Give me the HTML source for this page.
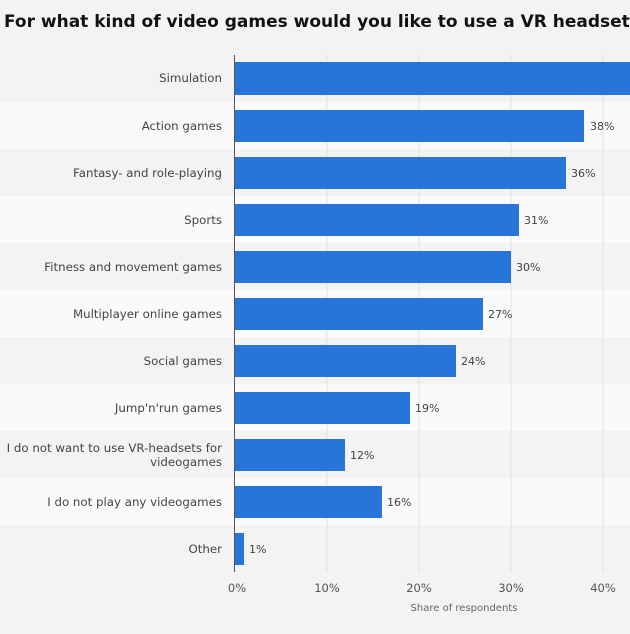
<!DOCTYPE html>
<html><head><meta charset="utf-8"><style>
body{margin:0;width:630px;height:630px;overflow:hidden;background:#f3f3f3;font-family:"DejaVu Sans","Liberation Sans",sans-serif;}
</style></head><body>
<svg width="630" height="630" xmlns="http://www.w3.org/2000/svg" font-family="DejaVu Sans, Liberation Sans, sans-serif">
<rect width="630" height="630" fill="#f3f3f3"/>
<text x="4" y="27" font-size="17" font-weight="bold" fill="#111">For what kind of video games would you like to use a VR headset?</text>
<g fill="#fafafa">
<rect x="0" y="102" width="630" height="47"/>
<rect x="0" y="196" width="630" height="47"/>
<rect x="0" y="290" width="630" height="47"/>
<rect x="0" y="384" width="630" height="47"/>
<rect x="0" y="478" width="630" height="47"/>
</g>
<g stroke="#e2e2e2" stroke-width="1">
<line x1="327" y1="55" x2="327" y2="572"/><line x1="419" y1="55" x2="419" y2="572"/>
<line x1="511" y1="55" x2="511" y2="572"/><line x1="603" y1="55" x2="603" y2="572"/>
</g>
<g fill="#2775d9">
<rect x="235" y="62" width="400" height="33"/>
<rect x="235" y="110" width="349" height="32"/>
<rect x="235" y="157" width="331" height="32"/>
<rect x="235" y="204" width="284" height="32"/>
<rect x="235" y="251" width="276" height="32"/>
<rect x="235" y="298" width="248" height="32"/>
<rect x="235" y="345" width="221" height="32"/>
<rect x="235" y="392" width="175" height="32"/>
<rect x="235" y="439" width="110" height="32"/>
<rect x="235" y="486" width="147" height="32"/>
<rect x="235" y="533" width="9" height="32"/>
</g>
<line x1="234.5" y1="55" x2="234.5" y2="572" stroke="#555" stroke-width="1"/>
<g font-size="11.8" fill="#444" text-anchor="end">
<text x="222" y="82">Simulation</text>
<text x="222" y="130">Action games</text>
<text x="222" y="177">Fantasy- and role-playing</text>
<text x="222" y="224">Sports</text>
<text x="222" y="271">Fitness and movement games</text>
<text x="222" y="318">Multiplayer online games</text>
<text x="222" y="365">Social games</text>
<text x="222" y="412">Jump'n'run games</text>
<text x="222" y="452">I do not want to use VR-headsets for</text>
<text x="222" y="466">videogames</text>
<text x="222" y="506">I do not play any videogames</text>
<text x="222" y="553">Other</text>
</g>
<g font-size="11" fill="#444">
<text x="590" y="130">38%</text>
<text x="571" y="177">36%</text>
<text x="524" y="224">31%</text>
<text x="516" y="271">30%</text>
<text x="488" y="318">27%</text>
<text x="461" y="365">24%</text>
<text x="415" y="412">19%</text>
<text x="350" y="459">12%</text>
<text x="387" y="506">16%</text>
<text x="249" y="553">1%</text>
</g>
<g font-size="11.5" fill="#555" text-anchor="middle">
<text x="237" y="592">0%</text><text x="327" y="592">10%</text><text x="419" y="592">20%</text>
<text x="511" y="592">30%</text><text x="603" y="592">40%</text>
</g>
<text x="464" y="611" font-size="10" fill="#666" text-anchor="middle">Share of respondents</text>
</svg>
</body></html>
